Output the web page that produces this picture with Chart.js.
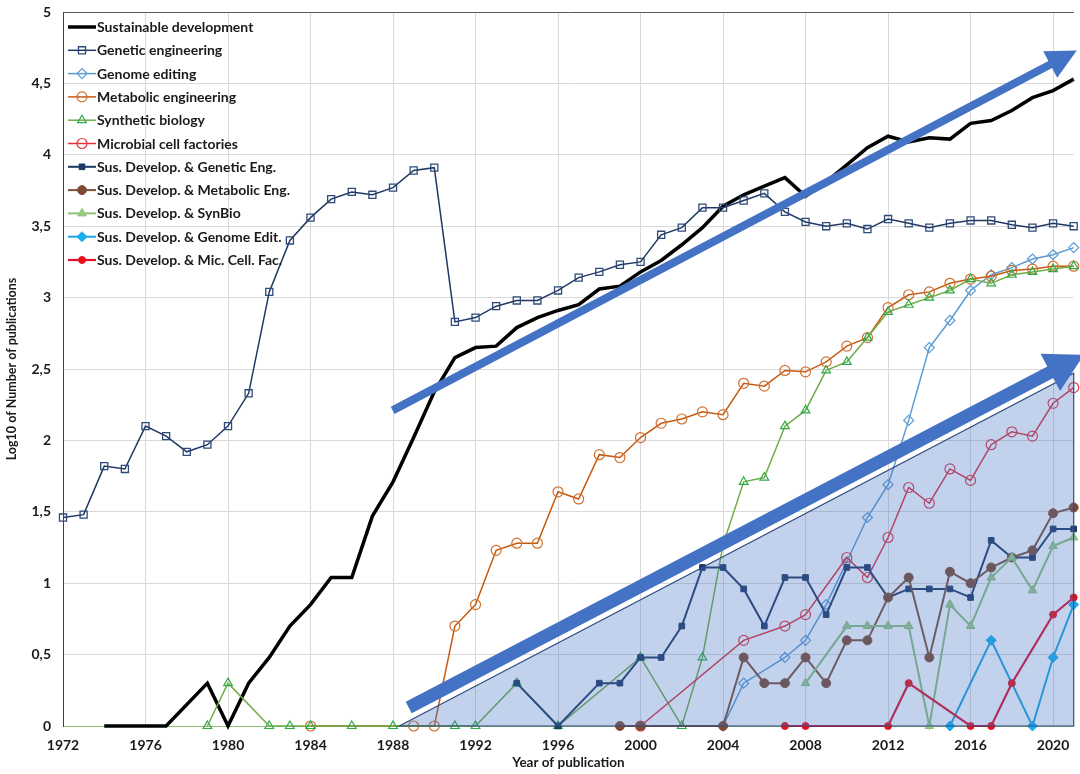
<!DOCTYPE html>
<html>
<head>
<meta charset="utf-8">
<script src="https://cdn.jsdelivr.net/npm/chart.js@4.4.1/dist/chart.umd.min.js"></script>
<style>
  html, body { margin: 0; padding: 0; background: #ffffff; }
  #wrap { width: 1080px; height: 774px; }
</style>
</head>
<body>
<div id="wrap"><canvas id="c" width="1080" height="774"></canvas></div>
<script>
// ---------- DATA ----------
const years = [1972,1973,1974,1975,1976,1977,1978,1979,1980,1981,
               1982,1983,1984,1985,1986,1987,1988,1989,1990,1991,
               1992,1993,1994,1995,1996,1997,1998,1999,2000,2001,
               2002,2003,2004,2005,2006,2007,2008,2009,2010,2011,
               2012,2013,2014,2015,2016,2017,2018,2019,2020,2021];

const xTickYears = [1972,1976,1980,1984,1988,1992,1996,2000,2004,2008,2012,2016,2020];
const yTickValues = [0,0.5,1,1.5,2,2.5,3,3.5,4,4.5,5];

const sustainableDevelopment = [null,null,0,0,0,0,null,0.30,0,0.30,
  0.48,0.70,0.85,1.04,1.04,1.47,1.71,2.02,2.34,2.58,
  2.65,2.66,2.79,2.86,2.91,2.95,3.06,3.08,3.18,3.26,
  3.37,3.49,3.64,3.72,3.78,3.84,3.71,3.81,3.93,4.05,
  4.13,4.09,4.12,4.11,4.22,4.24,4.31,4.40,4.45,4.53];

const geneticEngineering = [1.46,1.48,1.82,1.80,2.10,2.03,1.92,1.97,2.10,2.33,
  3.04,3.40,3.56,3.69,3.74,3.72,3.77,3.89,3.91,2.83,
  2.86,2.94,2.98,2.98,3.05,3.14,3.18,3.23,3.25,3.44,
  3.49,3.63,3.63,3.68,3.73,3.60,3.53,3.50,3.52,3.48,
  3.55,3.52,3.49,3.52,3.54,3.54,3.51,3.49,3.52,3.50];

const genomeEditing = [null,null,null,null,null,null,null,null,null,null,
  null,null,null,null,null,null,null,null,null,null,
  null,null,null,null,null,null,null,null,null,null,
  null,null,0,0.30,null,0.48,0.60,0.85,1.15,1.46,
  1.69,2.14,2.65,2.84,3.05,3.16,3.21,3.27,3.30,3.35];

const metabolicEngineering = [null,null,null,null,null,null,null,null,null,null,
  null,null,0,null,null,null,null,0,0,0.70,
  0.85,1.23,1.28,1.28,1.64,1.59,1.90,1.88,2.02,2.12,
  2.15,2.20,2.18,2.40,2.38,2.49,2.48,2.55,2.66,2.72,
  2.93,3.02,3.04,3.10,3.13,3.15,3.19,3.20,3.22,3.22];

const syntheticBiology = [null,null,null,null,null,null,null,0,0.30,null,
  0,0,0,null,0,null,0,null,null,0,
  0,null,0.30,null,0,null,null,null,0.48,null,
  0,0.48,1.27,1.71,1.74,2.10,2.21,2.49,2.55,2.72,
  2.90,2.95,3.00,3.05,3.13,3.10,3.16,3.18,3.20,3.22];

const microbialCellFactories = [null,null,null,null,null,null,null,null,null,null,
  null,null,null,null,null,null,null,null,null,null,
  null,null,null,null,null,null,null,null,0,null,
  null,null,null,0.60,null,0.70,0.78,null,1.18,1.04,
  1.32,1.67,1.56,1.80,1.72,1.97,2.06,2.03,2.26,2.37];

const sdGeneticEng = [null,null,null,null,null,null,null,null,null,null,
  null,null,null,null,null,null,null,null,null,null,
  null,null,0.30,null,0,null,0.30,0.30,0.48,0.48,
  0.70,1.11,1.11,0.96,0.70,1.04,1.04,0.78,1.11,1.11,
  0.90,0.96,0.96,0.96,0.90,1.30,1.18,1.18,1.38,1.38];

const sdMetabolicEng = [null,null,null,null,null,null,null,null,null,null,
  null,null,null,null,null,null,null,null,null,null,
  null,null,null,null,null,null,null,0,0,null,
  null,null,0,0.48,0.30,0.30,0.48,0.30,0.60,0.60,
  0.90,1.04,0.48,1.08,1.00,1.11,1.18,1.23,1.49,1.53];

const sdSynBio = [null,null,null,null,null,null,null,null,null,null,
  null,null,null,null,null,null,null,null,null,null,
  null,null,null,null,null,null,null,null,null,null,
  null,null,null,null,null,null,0.30,null,0.70,0.70,
  0.70,0.70,0,0.85,0.70,1.04,1.18,0.95,1.26,1.32];

const sdGenomeEdit = [null,null,null,null,null,null,null,null,null,null,
  null,null,null,null,null,null,null,null,null,null,
  null,null,null,null,null,null,null,null,null,null,
  null,null,null,null,null,null,null,null,null,null,
  null,null,null,0,null,0.60,null,0,0.48,0.85];

const sdMicCellFac = [null,null,null,null,null,null,null,null,null,null,
  null,null,null,null,null,null,null,null,null,null,
  null,null,null,null,null,null,null,null,null,null,
  null,null,null,null,null,0,0,null,null,null,
  0,0.30,null,null,0,0,0.30,null,0.78,0.90];

const seriesLabels = ['Sustainable development','Genetic engineering','Genome editing',
  'Metabolic engineering','Synthetic biology','Microbial cell factories',
  'Sus. Develop. & Genetic Eng.','Sus. Develop. & Metabolic Eng.','Sus. Develop. & SynBio',
  'Sus. Develop. & Genome Edit.','Sus. Develop. & Mic. Cell. Fac.'];

// ---------- BUILD ----------
function pts(arr){ const out=[]; arr.forEach((v,i)=>{ if(v!==null) out.push({x:years[i], y:v}); }); return out; }

const styles = [
  {c:'#000000', bw:3.5, ps:false, r:0, fill:'#000000'},
  {c:'#1F3864', bw:1.5, ps:'rect', r:5, fill:'rgba(255,255,255,0)', pbw:1.3, pc:'#2F4A7A'},
  {c:'#5B9BD5', bw:1.5, ps:'rectRot', r:5, fill:'rgba(255,255,255,0)', pbw:1.2},
  {c:'#C55A11', bw:1.5, ps:'circle', r:5, fill:'rgba(255,255,255,0)', pbw:1.2, pc:'#D0702E'},
  {c:'#70AD47', bw:1.5, ps:'triangle', r:5, fill:'rgba(255,255,255,0)', pbw:1.2, pc:'#2EAA4A'},
  {c:'#E0303C', bw:1.5, ps:'circle', r:5, fill:'rgba(255,255,255,0)', pbw:1.2, pc:'#E23A4A'},
  {c:'#1F3864', bw:2, ps:'rect', r:4, fill:'#1F3864'},
  {c:'#7F5038', bw:2, ps:'circle', r:4.5, fill:'#7F4A30'},
  {c:'#8DC07A', bw:2, ps:'triangle', r:5, fill:'#9CCB86'},
  {c:'#1EA5E0', bw:2, ps:'rectRot', r:5, fill:'#14B0F0'},
  {c:'#E0102E', bw:2.2, ps:'circle', r:3.5, fill:'#F01010'}
];
const allSeries = [sustainableDevelopment, geneticEngineering, genomeEditing, metabolicEngineering,
  syntheticBiology, microbialCellFactories, sdGeneticEng, sdMetabolicEng, sdSynBio, sdGenomeEdit, sdMicCellFac];

const datasets = allSeries.map((arr,i)=>{
  const s = styles[i];
  return {
    label: seriesLabels[i],
    data: pts(arr),
    borderColor: s.c,
    backgroundColor: s.fill,
    borderWidth: s.bw,
    pointStyle: s.ps,
    pointRadius: s.r,
    pointHoverRadius: s.r,
    pointBorderColor: s.pc || s.c,
    pointBackgroundColor: s.fill,
    pointBorderWidth: s.pbw || 1,
    tension: 0,
    spanGaps: true,
    clip: false,
    order: allSeries.length - i
  };
});

// ---------- ANNOTATIONS (data space) ----------
const trianglePts = [[1988.3,0],[2021,2.47],[2021,0]];
const arrowA = {from:[1987.98,2.21], to:[2021.15,4.73], w:8, hl:30, hw:30};
const arrowB = {from:[1988.76,0.13], to:[2021.5,2.60], w:13, hl:38, hw:42};

function drawArrow(ctx, x0,y0,x1,y1, w, hl, hw, color){
  const ang = Math.atan2(y1-y0, x1-x0);
  const len = Math.hypot(x1-x0, y1-y0);
  ctx.save();
  ctx.translate(x0,y0); ctx.rotate(ang);
  ctx.beginPath();
  ctx.moveTo(0,-w/2); ctx.lineTo(len-hl,-w/2); ctx.lineTo(len-hl,-hw/2);
  ctx.lineTo(len,0); ctx.lineTo(len-hl,hw/2); ctx.lineTo(len-hl,w/2); ctx.lineTo(0,w/2);
  ctx.closePath();
  ctx.fillStyle=color; ctx.fill();
  ctx.restore();
}

const FONT = 'Lato, "Open Sans", sans-serif';

const overlayPlugin = {
  id:'overlay',
  afterDatasetsDraw(chart){
    const {ctx, chartArea:a, scales:{x,y}} = chart;
    const P = p => [x.getPixelForValue(p[0]), y.getPixelForValue(p[1])];
    // top border
    ctx.save();
    ctx.strokeStyle='#595959'; ctx.lineWidth=1;
    ctx.beginPath(); ctx.moveTo(a.left, a.top+0.5); ctx.lineTo(a.right, a.top+0.5); ctx.stroke();
    // triangle
    const t = trianglePts.map(P);
    ctx.beginPath(); ctx.moveTo(t[0][0],t[0][1]); ctx.lineTo(t[1][0],t[1][1]); ctx.lineTo(t[2][0],t[2][1]); ctx.closePath();
    ctx.fillStyle='rgba(68,114,196,0.32)'; ctx.fill();
    ctx.strokeStyle='#2F4A7F'; ctx.lineWidth=1.2; ctx.stroke();
    ctx.restore();
    // arrows
    let s=P(arrowA.from), e=P(arrowA.to);
    drawArrow(ctx, s[0],s[1],e[0],e[1], arrowA.w, arrowA.hl, arrowA.hw, '#4472C4');
    s=P(arrowB.from); e=P(arrowB.to);
    drawArrow(ctx, s[0],s[1],e[0],e[1], arrowB.w, arrowB.hl, arrowB.hw, '#4472C4');
    // legend
    ctx.save();
    ctx.font = 'bold 14px ' + FONT; ctx.textBaseline='middle'; ctx.textAlign='left';
    chart.data.datasets.forEach((ds,i)=>{
      const yy = a.top + 15 + i*23.3;
      ctx.strokeStyle = ds.borderColor; ctx.lineWidth = ds.borderWidth;
      ctx.beginPath(); ctx.moveTo(a.left+5, yy); ctx.lineTo(a.left+33, yy); ctx.stroke();
      if(ds.pointStyle){
        ctx.fillStyle = ds.pointBackgroundColor; ctx.strokeStyle = ds.pointBorderColor;
        ctx.lineWidth = ds.pointBorderWidth;
        Chart.helpers.drawPoint(ctx, {pointStyle: ds.pointStyle, radius: ds.pointRadius, rotation:0, borderWidth: ds.pointBorderWidth}, a.left+19, yy);
      }
      ctx.fillStyle='#1a1a1a';
      ctx.fillText(ds.label, a.left+34, yy+0.5);
    });
    ctx.restore();
  }
};

new Chart(document.getElementById('c'), {
  type:'line',
  data:{ datasets },
  plugins:[overlayPlugin],
  options:{
    responsive:false,
    animation:false,
    events:[],
    layout:{ padding:{ top:12, right:5, left:0, bottom:0 } },
    plugins:{ legend:{display:false}, tooltip:{enabled:false} },
    scales:{
      x:{
        type:'linear', min:1972, max:2021,
        afterFit(s){ s.height = 48; s.paddingLeft = 0; s.paddingRight = 0; },
        afterBuildTicks(s){ s.ticks = xTickYears.map(v=>({value:v})); },
        ticks:{ stepSize:4, includeBounds:false, padding:11, color:'#1a1a1a',
          font:{family:FONT, size:14, weight:'bold'},
          callback:v=>String(v), maxRotation:0, autoSkip:false },
        grid:{ color:'#D9D9D9', drawTicks:false },
        border:{ color:'#8FBF73', width:1 },
        title:{ display:true, text:'Year of publication', color:'#1a1a1a', padding:{top:0,bottom:3},
          font:{family:FONT, size:13.5, weight:'bold'} }
      },
      y:{
        type:'linear', min:0, max:5,
        afterFit(s){ s.width = 63; s.paddingTop = 0; s.paddingBottom = 0; },
        afterBuildTicks(s){ s.ticks = yTickValues.map(v=>({value:v})); },
        ticks:{ stepSize:0.5, padding:12, color:'#1a1a1a',
          font:{family:FONT, size:14, weight:'bold'},
          callback:v=>String(v).replace('.', ',') },
        grid:{ color:'#D9D9D9', drawTicks:false },
        border:{ color:'#404040', width:1 },
        title:{ display:true, text:'Log10 of Number of publications', color:'#1a1a1a', padding:{top:4,bottom:0},
          font:{family:FONT, size:12.5, weight:'bold'} }
      }
    }
  }
});
</script>
</body>
</html>
